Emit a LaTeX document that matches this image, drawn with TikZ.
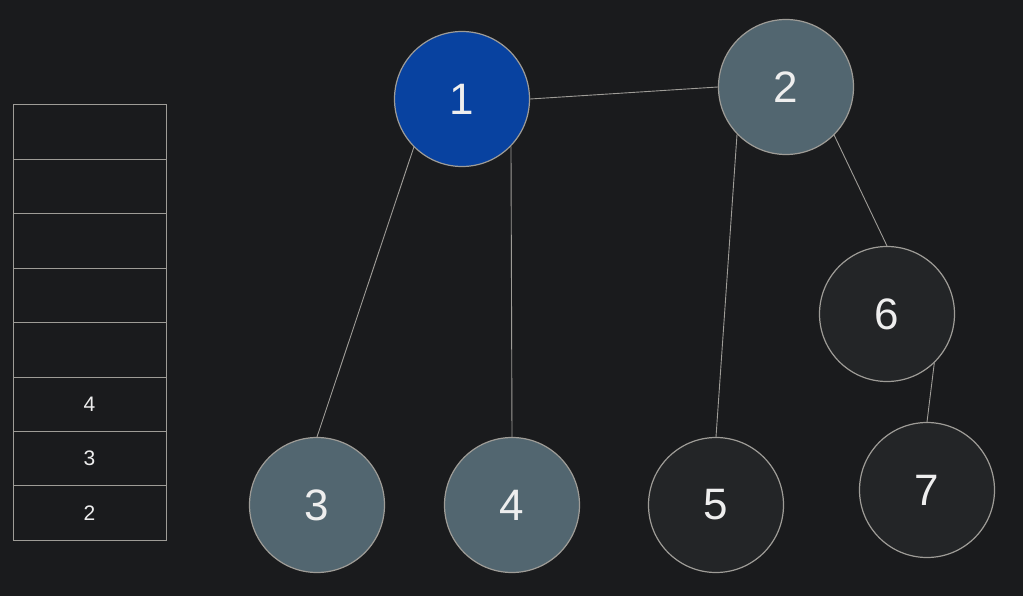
\documentclass[tikz,border=0pt]{standalone}
\usepackage{fontspec}
\setmainfont{Liberation Sans}
\definecolor{bg}{HTML}{1A1B1D}
\definecolor{edgec}{HTML}{9E9C97}
\definecolor{txt}{HTML}{EEEEEE}
\definecolor{bluef}{HTML}{0842A0}
\definecolor{grayf}{HTML}{526670}
\definecolor{darkf}{HTML}{232527}
\tikzset{
  vert/.style={circle, draw=edgec, line width=1.2pt, minimum size=135pt, inner sep=0pt,
    text=txt, font=\fontsize{44}{44}\selectfont},
  visited/.style={vert, fill=bluef},
  queued/.style={vert, fill=grayf},
  fresh/.style={vert, fill=darkf},
  cell/.style={rectangle, draw=edgec, line width=1pt, fill=bg, minimum width=153pt,
    minimum height=54.4pt, inner sep=0pt, text=txt, font=\fontsize{21}{21}\selectfont},
  link/.style={draw=edgec, line width=0.9pt}
}
\begin{document}
\begin{tikzpicture}[x=1pt,y=-1pt]
\fill[bg] (0,0) rectangle (1023,596);
\useasboundingbox (0,0) rectangle (1023,596);
% stack
\foreach \i/\t in {1/,2/,3/,4/,5/,6/4,7/3,8/2}{
  \node[cell] (s\i) at (89.5,{105+54.4*(\i-0.5)}) {\t};
}
% vertices
\node[visited] (n1) at (462,99) {1};
\node[queued] (n2) at (786,87) {2};
\node[queued] (n3) at (317,505) {3};
\node[queued] (n4) at (512,505) {4};
\node[fresh] (n5) at (716,505) {5};
\node[fresh] (n6) at (887,314) {6};
\node[fresh] (n7) at (927,490) {7};
% edges
\draw[link] (n1.east) -- (n2.west);
\draw[link] (n1.-135) -- (n3.north);
\draw[link] (n1.-44) -- (n4.north);
\draw[link] (n2.-136) -- (n5.north);
\draw[link] (n2.-45) -- (n6.north);
\draw[link] (n6.-46) -- (n7.north);
\end{tikzpicture}
\end{document}
